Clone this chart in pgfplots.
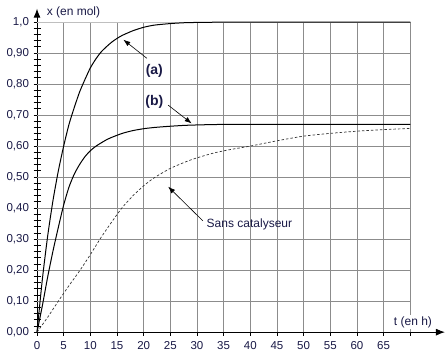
\documentclass[border=0pt]{standalone}
\usepackage{pgfplots}
\pgfplotsset{compat=1.18}
\usepackage{fontspec}
\setmainfont{Liberation Sans}
\usetikzlibrary{arrows.meta}
\definecolor{txt}{RGB}{25,25,70}
\definecolor{gridc}{RGB}{140,140,140}
\begin{document}
\begin{tikzpicture}
\begin{axis}[
  scale only axis,
  x=5.33pt, y=310pt,
  xmin=0, xmax=76.5, ymin=0, ymax=1.043,
  axis x line=bottom, axis y line=left,
  axis line style={line width=0.9pt, -{Latex[length=9pt,width=7pt]}},
  clip=false,
  xtick={0,5,10,15,20,25,30,35,40,45,50,55,60,65,70},
  xticklabels={0,5,10,15,20,25,30,35,40,45,50,55,60,65,{}},
  ytick={0,0.1,0.2,0.3,0.4,0.5,0.6,0.7,0.8,0.9,1.0},
  yticklabels={{0,00},{0,10},{0,20},{0,30},{0,40},{0,50},{0,60},{0,70},{0,80},{0,90},{1,0}},
  minor y tick num=4,
  tick align=center,
  major tick length=7pt, minor tick length=7pt,
  tick style={black, line width=0.8pt},
  /pgf/number format/assume math mode=true,
  tick label style={font=\fontsize{11.5}{12}\selectfont, text=txt},
  yticklabel style={xshift=-1pt},
  xticklabel style={yshift=-2pt},
]
% grid
\pgfplotsinvokeforeach{5,10,15,20,25,30,35,40,45,50,55,60,65}{
  \draw[gridc, line width=0.8pt] (axis cs:#1,0) -- (axis cs:#1,1);
}
\draw[gridc, line width=0.8pt] (axis cs:70,0) -- (axis cs:70,1);
\pgfplotsinvokeforeach{0.1,0.2,0.3,0.4,0.5,0.6,0.7,0.8,0.9}{
  \draw[gridc, line width=0.8pt] (axis cs:0,#1) -- (axis cs:70,#1);
}
\draw[gray!50, line width=0.8pt] (axis cs:0,1) -- (axis cs:70,1);

% (a)
\addplot[black, line width=1pt, smooth, tension=0.4] coordinates {
(0,0) (1,0.17) (2,0.31) (3,0.425) (4,0.52) (5,0.6) (6,0.67) (7,0.725) (8,0.775)
(9,0.815) (10,0.852) (11,0.88) (12,0.903) (13,0.92) (14,0.935) (15,0.947) (16,0.957) (18,0.972)
(20,0.983) (22,0.99) (25,0.995) (28,0.998) (32,0.999) (36,1.0) (45,1.0) (55,1.0) (70,1.0)};
% (b)
\addplot[black, line width=1pt, smooth, tension=0.4] coordinates {
(0,0) (1,0.085) (2,0.178) (3,0.262) (4,0.338) (5,0.41) (6,0.468) (7,0.51) (8,0.541)
(9,0.566) (10,0.585) (11,0.599) (12,0.61) (13,0.62) (14,0.628) (16,0.641) (18,0.65) (20,0.656)
(22,0.66) (25,0.664) (28,0.667) (32,0.669) (36,0.67) (45,0.67) (55,0.67) (70,0.67)};
% sans catalyseur
\addplot[black!80, line width=0.7pt, dash pattern=on 2.5pt off 2pt, smooth, tension=0.4] coordinates {
(0,0) (2,0.048) (4,0.1) (6,0.15) (8,0.198) (10,0.25) (12,0.305) (14,0.355)
(16,0.402) (18,0.44) (20,0.472) (22,0.498) (25,0.528) (28,0.55) (30,0.562)
(33,0.577) (36,0.588) (40,0.6) (45,0.617) (50,0.632) (55,0.641) (60,0.648)
(65,0.653) (70,0.657)};

% annotations
\node[font=\fontsize{14}{15}\selectfont\bfseries, text=txt] at (axis cs:22,0.843) {(a)};
\draw[-{Latex[length=7pt,width=5pt]}, line width=0.6pt] (axis cs:20.6,0.883) -- (axis cs:16.2,0.943);
\node[font=\fontsize{14}{15}\selectfont\bfseries, text=txt] at (axis cs:22,0.743) {(b)};
\draw[-{Latex[length=7pt,width=5pt]}, line width=0.6pt] (axis cs:24.6,0.732) -- (axis cs:29,0.673);
\node[anchor=west, inner sep=1pt, font=\fontsize{12}{13}\selectfont, text=txt] at (axis cs:31.6,0.348) {Sans catalyseur};
\draw[-{Latex[length=7pt,width=5pt]}, line width=0.6pt] (axis cs:31.1,0.359) -- (axis cs:24.6,0.469);

\node[anchor=west, inner sep=0pt, font=\fontsize{12}{13}\selectfont, text=txt] at (axis cs:1.8,1.03) {x (en mol)};
\node[fill=white, inner sep=1.5pt, font=\fontsize{12}{13}\selectfont, text=txt] at (axis cs:70.5,0.032) {t (en h)};

\coordinate (BL) at (axis cs:-6.94,-0.071);
\coordinate (TR) at (axis cs:76.7,1.071);
\end{axis}
\pgfresetboundingbox
\useasboundingbox (BL) rectangle (TR);
\end{tikzpicture}
\end{document}
